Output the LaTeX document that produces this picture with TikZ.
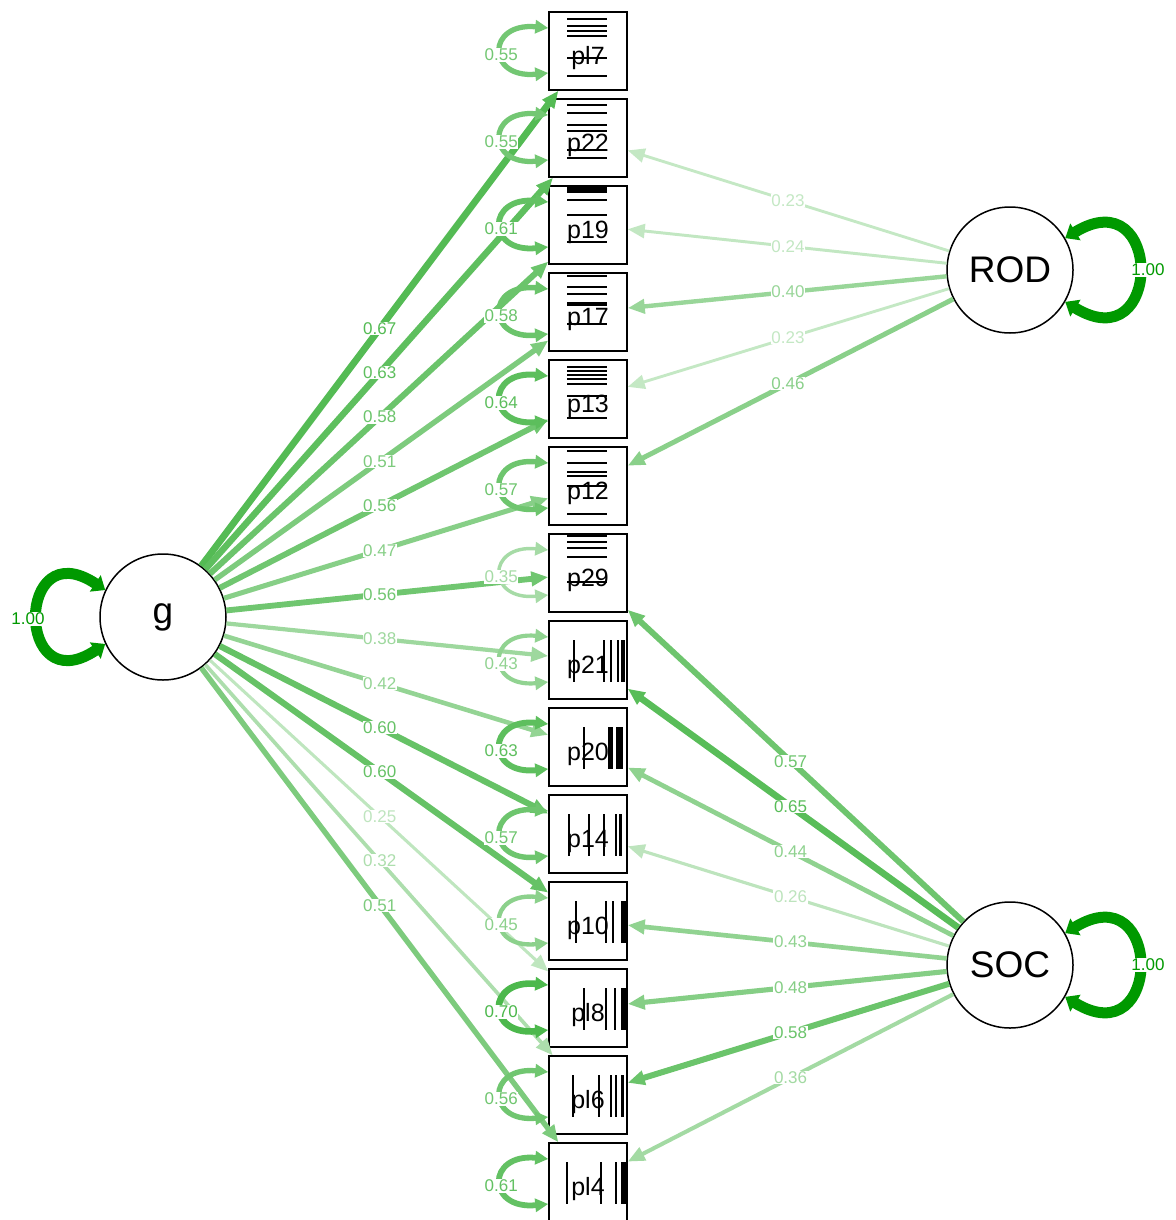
\documentclass[tikz,border=0pt]{standalone}
\usepackage{fontspec}
\setmainfont{Liberation Sans}
\usetikzlibrary{arrows.meta,calc}
\definecolor{sg}{RGB}{0,153,0}

% threshold marks inside an indicator box
\newcommand\hmarks[2]{\foreach \ry/\tw in {#2}{\draw[line width=\tw pt] ($(#1.north west)+(19,\ry)$) -- ++(40,0);}}
\newcommand\vmarks[2]{\foreach \ry/\tw in {#2}{\draw[line width=\tw pt] ($(#1.north west)+(\ry,20)$) -- ++(0,42);}}

\begin{document}
\begin{tikzpicture}[x=1pt,y=-1pt,
  item/.style={draw, line width=1.5pt, minimum size=78pt, inner sep=0pt, fill=white,
    text height=27pt, text depth=0pt, font=\fontsize{25}{25}\selectfont},
  latent/.style={circle, draw, line width=1.5pt, minimum size=126pt, inner sep=0pt, fill=white,
    font=\fontsize{37}{37}\selectfont},
  lbl/.style={fill=white, inner sep=0.6pt, font=\fontsize{17}{17}\selectfont},
  loading/.style={-{Triangle[length=17pt,width=14pt]}},
  resid/.style={{Triangle[length=13pt,width=13pt]}-{Triangle[length=13pt,width=13pt]}},
  latloop/.style={line width=11pt, draw=sg, {Triangle[length=12pt,width=19pt]}-{Triangle[length=12pt,width=19pt]}}
]
\useasboundingbox (0,0) rectangle (1175,1220);

% latent variables
\node[latent] (g) at (163,617) {g};
\node[latent] (ROD) at (1010,270) {ROD};
\node[latent] (SOC) at (1010,965) {SOC};

% indicators
\foreach \nm/\yy in {pl7/51,p22/138,p19/225,p17/312,p13/399,p12/486,p29/573,
                     p21/660,p20/747,p14/834,p10/921,pl8/1008,pl6/1095,pl4/1182}
  \node[item] (\nm) at (588,\yy) {\nm};

% loadings on g
\foreach \nm/\w in {pl7/67,p22/63,p19/58,p17/51,p13/56,p12/47,p29/56,p21/38,
                    p20/42,p14/60,p10/60,pl8/25,pl6/32,pl4/51}{
  \pgfmathsetmacro\lw{\w*0.09+0.8}
  \draw[loading, line width=\lw pt, draw=sg!\w!white] (g) -- (\nm);
}
% loadings on ROD
\foreach \nm/\w in {p22/23,p19/24,p17/40,p13/23,p12/46}{
  \pgfmathsetmacro\lw{\w*0.09+0.8}
  \draw[loading, line width=\lw pt, draw=sg!\w!white] (ROD) -- (\nm);
}
% loadings on SOC
\foreach \nm/\w in {p29/57,p21/65,p20/44,p14/26,p10/43,pl8/48,pl6/58,pl4/36}{
  \pgfmathsetmacro\lw{\w*0.09+0.8}
  \draw[loading, line width=\lw pt, draw=sg!\w!white] (SOC) -- (\nm);
}
% residual variances
\foreach \nm/\w in {pl7/55,p22/55,p19/61,p17/58,p13/64,p12/57,p29/35,p21/43,
                    p20/63,p14/57,p10/45,pl8/70,pl6/56,pl4/61}{
  \pgfmathsetmacro\lw{\w*0.09+0.3}
  \draw[resid, line width=\lw pt, draw=sg!\w!white]
    ($(\nm.west)+(0,-23)$) .. controls +(-62,-6) and +(-62,6) .. ($(\nm.west)+(0,22)$);
}
% latent variances
\draw[latloop] (g.155) .. controls +(-90,-60) and +(-90,60) .. (g.205);
\draw[latloop] (ROD.30) .. controls +(98,-60) and +(98,60) .. (ROD.-30);
\draw[latloop] (SOC.30) .. controls +(98,-60) and +(98,60) .. (SOC.-30);

% thresholds
\hmarks{pl7}{7.6/2,14.3/2,19.3/2,25/2,46.6/2,65/2}
\hmarks{p22}{7/2,15/2,27/2,33/2,52/2,60/2}
\hmarks{p19}{4.5/5.6,14.7/2,29.3/2,56.7/2}
\hmarks{p17}{4/2,15/2,21.7/2,32/4,51.7/2}
\hmarks{p13}{7.3/2,11.7/2,15.7/2,20/2,25/2,36.7/2,58.3/2}
\hmarks{p12}{4.3/2,17/2,26/2,30/2,39.3/2,67.7/2}
\hmarks{p29}{2/3,8.3/2,15/2,23.3/2,48.3/2}
\vmarks{p21}{26/2,56/2,62.7/2,69.3/2,75/4}
\vmarks{p20}{36/2,62.2/5.7,71/6.7}
\vmarks{p14}{21/2,41/2,56/2,67.7/2,72.7/3}
\vmarks{p10}{28/2,58/2,65/2,75/5}
\vmarks{pl8}{36/2,57.7/2,66.7/2,75/5}
\vmarks{pl6}{24.3/2,51/2,62.7/2,67.7/2,74.3/3}
\vmarks{pl4}{18.7/2,52.7/2,67.7/2,75/5}

% loading labels
\foreach \nm/\w in {pl7/67,p22/63,p19/58,p17/51,p13/56,p12/47,p29/56,p21/38,
                    p20/42,p14/60,p10/60,pl8/25,pl6/32,pl4/51}
  \node[lbl, text=sg!\w!white] at ($(g.center)!0.51!(\nm.center)$) {0.\w};
\foreach \nm/\w in {p22/23,p19/24,p17/40,p13/23,p12/46}
  \node[lbl, text=sg!\w!white] at ($(ROD.center)!0.526!(\nm.center)$) {0.\w};
\foreach \nm/\w in {p29/57,p21/65,p20/44,p14/26,p10/43,pl8/48,pl6/58,pl4/36}
  \node[lbl, text=sg!\w!white] at ($(SOC.center)!0.52!(\nm.center)$) {0.\w};
% variance labels
\foreach \nm/\w in {pl7/55,p22/55,p19/61,p17/58,p13/64,p12/57,p29/35,p21/43,
                    p20/63,p14/57,p10/45,pl8/70,pl6/56,pl4/61}
  \node[lbl, text=sg!\w!white] at ($(\nm.west)+(-47,4)$) {0.\w};
\node[lbl, text=sg] at ($(g.center)+(-135,2)$) {1.00};
\node[lbl, text=sg] at ($(ROD.center)+(138,0)$) {1.00};
\node[lbl, text=sg] at ($(SOC.center)+(138,0)$) {1.00};
\end{tikzpicture}
\end{document}
